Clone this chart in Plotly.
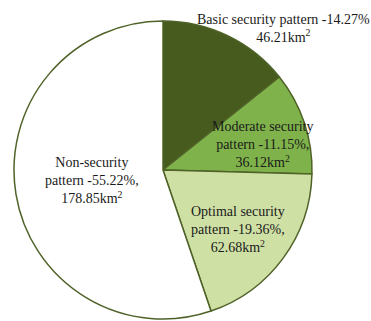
import plotly.graph_objects as go

categories = ["Basic security pattern", "Moderate security pattern",
              "Optimal security pattern", "Non-security pattern"]
percents = [14.27, 11.15, 19.36, 55.22]
areas = [46.21, 36.12, 62.68, 178.85]

colors = ["#485b1f", "#7fb24a", "#cfe0a5", "#ffffff"]

W, H = 371, 321
cx, cy, r = 163, 170, 149

fig = go.Figure(go.Pie(
    labels=categories,
    values=percents,
    sort=False,
    direction="clockwise",
    rotation=0,
    textinfo="none",
    hoverinfo="label+value",
    marker=dict(colors=colors, line=dict(color="#4f6228", width=1.5)),
    domain=dict(x=[(cx - r) / W, (cx + r) / W],
                y=[(H - cy - r) / H, (H - cy + r) / H]),
    showlegend=False,
))

label_texts = [
    f"Basic security pattern -{percents[0]:.2f}%<br>{areas[0]:.2f}km<sup>2</sup>",
    f"Moderate security<br>pattern -{percents[1]:.2f}%,<br>{areas[1]:.2f}km<sup>2</sup>",
    f"Optimal security<br>pattern -{percents[2]:.2f}%,<br>{areas[2]:.2f}km<sup>2</sup>",
    f"Non-security<br>pattern -{percents[3]:.2f}%,<br>{areas[3]:.2f}km<sup>2</sup>",
]
label_pos = [(283, 28), (262, 144), (238, 229), (92, 181)]

for txt, (px, py) in zip(label_texts, label_pos):
    fig.add_annotation(
        x=px / W, y=1 - py / H, xref="paper", yref="paper",
        text=txt, showarrow=False, xanchor="center", yanchor="middle",
        align="center", borderpad=0,
        font=dict(family="Liberation Serif, Times New Roman, serif", size=14, color="#1a1a1a"),
    )

fig.update_layout(
    width=W, height=H,
    margin=dict(l=0, r=0, t=0, b=0),
    paper_bgcolor="white",
    plot_bgcolor="white",
)

fig.write_html("out.html")
